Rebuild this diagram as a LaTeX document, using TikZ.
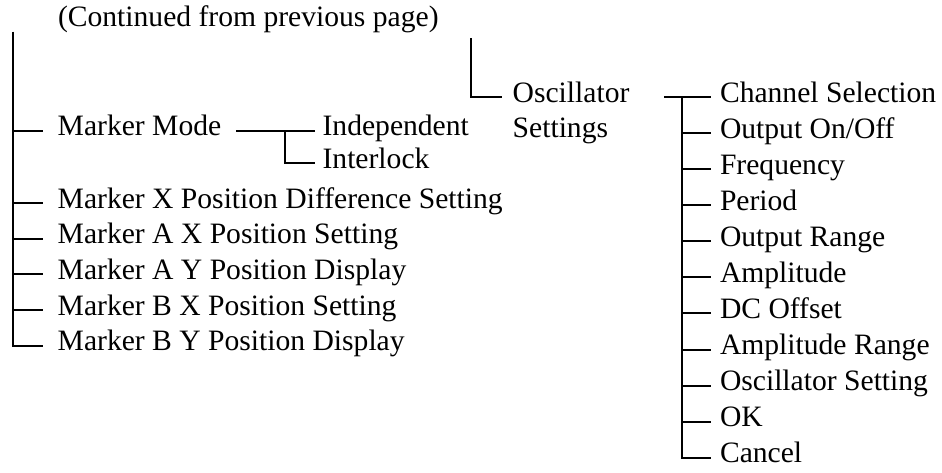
\documentclass[tikz,border=0pt]{standalone}
\usepackage{fontspec}
\setmainfont{Liberation Serif}

\begin{document}
\begin{tikzpicture}[x=0.5pt,y=-0.5pt,line width=1pt,
  font=\fontsize{14.8pt}{18pt}\selectfont,
  item/.style={anchor=west,inner ysep=0pt,text height=5pt,text depth=0pt},
  entry/.style={item,inner xsep=7pt},
  leaf/.style={item,inner xsep=4pt},
  sub/.style={item,inner xsep=3.3pt}]

      \useasboundingbox (0,0) rectangle (942,472);

      \node[anchor=base west,inner sep=0pt] (cont) at (57,26.7) {(Continued from previous page)};

      %Left column
      \coordinate (ltop) at (12.5,31.7);
      \node[entry] (mode) at (42.7,130.5) {Marker Mode};
      \node[sub] (indep) at (315,130.5) {Independent};
      \node[sub] (inter) at (315,163.3) {Interlock};
      \node[entry] (xdiff) at (42.7,203) {Marker X Position Difference Setting};
      \node[entry] (ax) at (42.7,238.7) {Marker A X Position Setting};
      \node[entry] (ay) at (42.7,274.4) {Marker A Y Position Display};
      \node[entry] (bx) at (42.7,310.1) {Marker B X Position Setting};
      \node[entry] (by) at (42.7,345.8) {Marker B Y Position Display};

      \draw (ltop) |- (by.west);
      \draw (ltop |- mode.west) -- (mode.west);
      \draw (ltop |- xdiff.west) -- (xdiff.west);
      \draw (ltop |- ax.west) -- (ax.west);
      \draw (ltop |- ay.west) -- (ay.west);
      \draw (ltop |- bx.west) -- (bx.west);

      \coordinate (jmode) at (285,130.5);
      \draw (mode.east) -- (indep.west);
      \draw (jmode) |- (inter.west);

      %Oscillator
      \coordinate (otop) at (471,38.3);
      \node[item,inner xsep=5pt] (osc) at (501.7,97) {Oscillator};
      \node[item,inner xsep=5pt] (osc2) at (501.7,132.3) {Settings};
      \draw (otop) |- (osc.west);

      %Right column
      \coordinate (oin) at (664.3,97);
      \coordinate (jr) at (681.7,97);
      \node[leaf] (ch) at (711,97) {Channel Selection};
      \node[leaf] (onoff) at (711,133.1) {Output On/Off};
      \node[leaf] (freq) at (711,169.1) {Frequency};
      \node[leaf] (period) at (711,205.2) {Period};
      \node[leaf] (orange) at (711,241.3) {Output Range};
      \node[leaf] (amp) at (711,277.4) {Amplitude};
      \node[leaf] (dc) at (711,313.4) {DC Offset};
      \node[leaf] (arange) at (711,349.5) {Amplitude Range};
      \node[leaf] (oscset) at (711,385.6) {Oscillator Setting};
      \node[leaf] (ok) at (711,421.6) {OK};
      \node[leaf] (cancel) at (711,457.7) {Cancel};

      \draw (oin) -- (ch.west);
      \draw (jr) |- (cancel.west);
      \draw (jr |- onoff.west) -- (onoff.west);
      \draw (jr |- freq.west) -- (freq.west);
      \draw (jr |- period.west) -- (period.west);
      \draw (jr |- orange.west) -- (orange.west);
      \draw (jr |- amp.west) -- (amp.west);
      \draw (jr |- dc.west) -- (dc.west);
      \draw (jr |- arange.west) -- (arange.west);
      \draw (jr |- oscset.west) -- (oscset.west);
      \draw (jr |- ok.west) -- (ok.west);

    \end{tikzpicture}
\end{document}
